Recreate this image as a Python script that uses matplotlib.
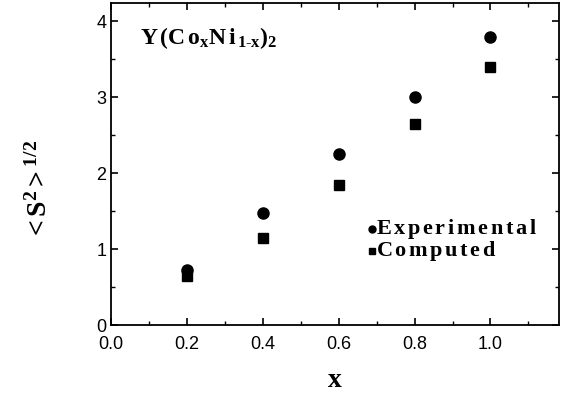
import matplotlib
matplotlib.use('Agg')
import matplotlib.pyplot as plt
from matplotlib.ticker import MultipleLocator

x_vals = [0.2, 0.4, 0.6, 0.8, 1.0]
experimental = [0.73, 1.48, 2.25, 3.0, 3.8]
computed = [0.65, 1.15, 1.85, 2.65, 3.4]
series_names = ['Experimental', 'Computed']

plt.rcParams['font.family'] = 'Liberation Sans'
plt.rcParams['mathtext.fontset'] = 'custom'
plt.rcParams['mathtext.rm'] = 'Liberation Serif'
plt.rcParams['mathtext.bf'] = 'Liberation Serif:bold'
plt.rcParams['mathtext.it'] = 'Liberation Serif:italic'

fig = plt.figure(figsize=(5.61, 3.96), dpi=100)
ax = fig.add_axes([0.198, 0.179, 0.798, 0.813])

ax.plot(x_vals, experimental, 'o', color='black', markersize=8)
ax.plot(x_vals, computed, 's', color='black', markersize=7)

ax.set_xlim(0, 1.18)
ax.set_ylim(0, 4.24)
ax.xaxis.set_major_locator(MultipleLocator(0.2))
ax.xaxis.set_minor_locator(MultipleLocator(0.1))
ax.yaxis.set_major_locator(MultipleLocator(1))
ax.yaxis.set_minor_locator(MultipleLocator(0.5))
ax.xaxis.set_major_formatter(plt.FuncFormatter(lambda v, p: f'{v:.1f}'))
ax.tick_params(which='both', direction='in', top=True, right=True, labelsize=13)
ax.tick_params(which='major', length=5, width=1.2)
ax.tick_params(which='minor', length=3, width=1)
ax.tick_params(axis='x', pad=8)
for s in ax.spines.values():
    s.set_linewidth(1.3)

ax.text(0.075, 3.78,
        r'$\mathbf{Y\,(C\,o_{x}N\,i_{\,1\text{-}x})_{2}}$',
        fontsize=17, va='center')

# legend drawn as text with markers
ax.plot([0.688], [1.26], 'o', color='black', markersize=5)
ax.plot([0.688], [0.97], 's', color='black', markersize=5)
for name, yy in zip(series_names, [1.26, 0.97]):
    spaced = r'\,'.join(name)
    ax.text(0.697, yy, r'$\mathbf{' + spaced + '}$', fontsize=16, va='center')

ax.set_xlabel(r'$\mathbf{x}$', fontsize=20, labelpad=10)
ax.set_ylabel(r'$\mathbf{<S^{2}>^{1/2}}$', fontsize=20)
ax.yaxis.set_label_coords(-0.13, 0.42)

fig.savefig('out.png', dpi=100)
